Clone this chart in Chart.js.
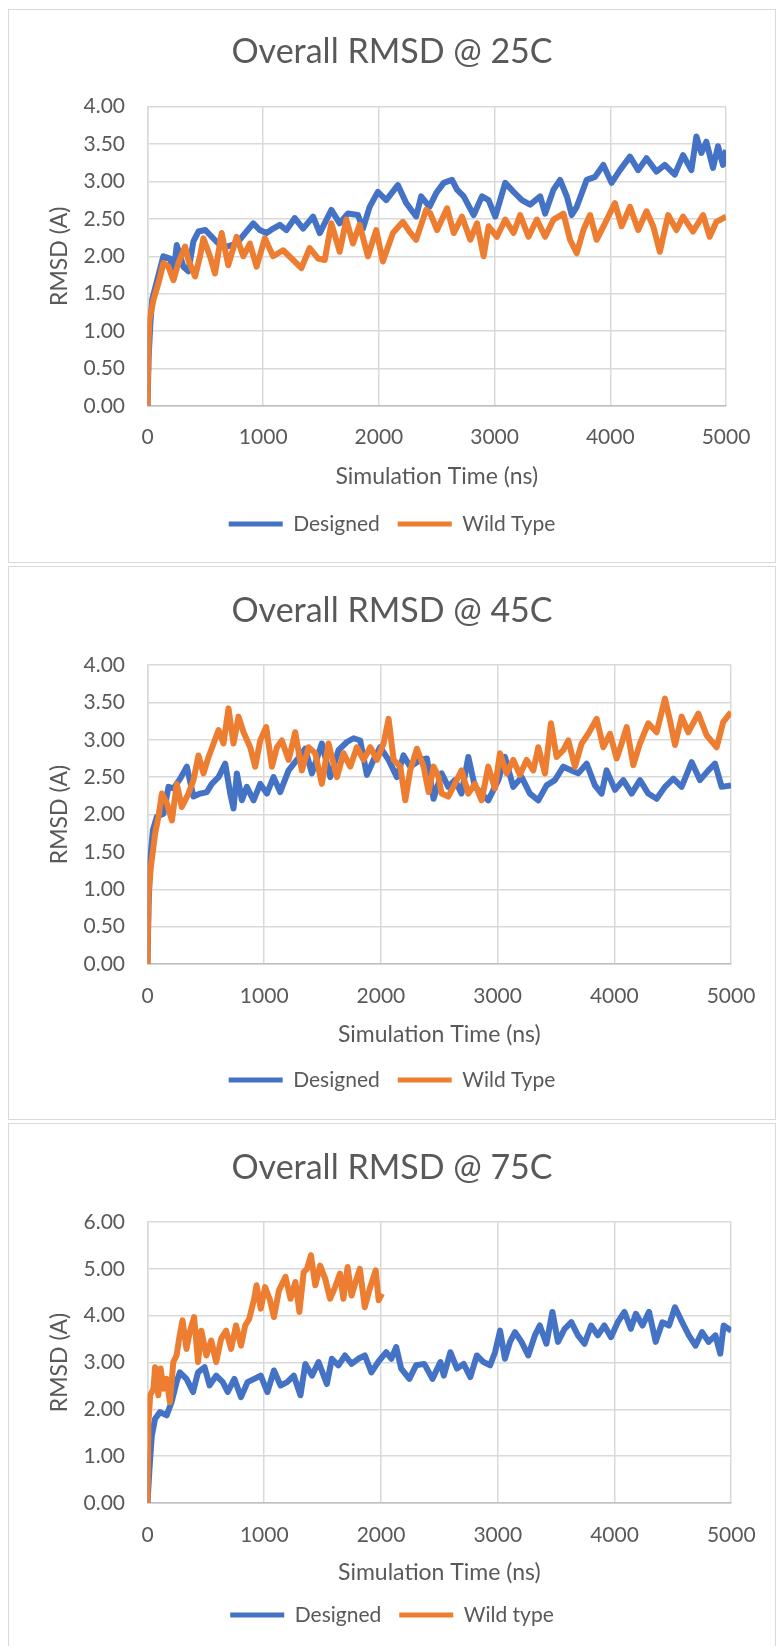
<!DOCTYPE html>
<html>
<head>
<meta charset="utf-8">
<script src="https://cdn.jsdelivr.net/npm/chart.js@4/dist/chart.umd.min.js"></script>
<style>
  body { margin: 0; background: #fff; width: 776px; height: 1646px; position: relative; overflow: hidden; }
  .box { position: absolute; left: 8px; width: 766px; height: 552px; border: 1px solid #d9d9d9; background: #fff; }
  .box canvas { position: absolute; left: 0; top: 0; }
</style>
</head>
<body>
<div class="box" style="top:9px"><canvas id="chart25" width="766" height="552"></canvas></div>
<div class="box" style="top:566px"><canvas id="chart45" width="766" height="552"></canvas></div>
<div class="box" style="top:1123px"><canvas id="chart75" width="766" height="552"></canvas></div>
<script>
// values (time in ns, RMSD in A)
const xTicks = [0, 1000, 2000, 3000, 4000, 5000];

const time25Designed = [0, 10, 25, 40, 80, 137, 195, 224, 253, 310, 353, 397, 440, 500, 555, 612, 684, 770, 828, 914, 970, 1029, 1086, 1144, 1201, 1273, 1345, 1431, 1489, 1589, 1661, 1733, 1819, 1862, 1920, 1991, 2063, 2164, 2236, 2322, 2365, 2437, 2494, 2560, 2632, 2675, 2733, 2819, 2891, 2948, 3006, 3092, 3164, 3236, 3307, 3394, 3437, 3509, 3566, 3624, 3667, 3710, 3796, 3868, 3940, 4011, 4083, 4170, 4241, 4313, 4399, 4471, 4557, 4629, 4701, 4744, 4787, 4830, 4888, 4931, 4974, 5000];
const rmsd25Designed = [0, 0.66, 1.1, 1.42, 1.66, 2.0, 1.97, 1.77, 2.15, 1.86, 1.8, 2.2, 2.33, 2.35, 2.26, 2.17, 2.13, 2.17, 2.28, 2.44, 2.35, 2.31, 2.37, 2.42, 2.35, 2.51, 2.37, 2.53, 2.31, 2.62, 2.44, 2.57, 2.55, 2.37, 2.66, 2.86, 2.75, 2.95, 2.71, 2.53, 2.8, 2.66, 2.84, 2.98, 3.02, 2.89, 2.8, 2.55, 2.8, 2.75, 2.53, 2.98, 2.86, 2.75, 2.69, 2.8, 2.57, 2.89, 3.02, 2.8, 2.55, 2.66, 3.02, 3.06, 3.22, 2.98, 3.15, 3.33, 3.15, 3.31, 3.13, 3.22, 3.09, 3.35, 3.15, 3.6, 3.38, 3.53, 3.18, 3.47, 3.22, 3.42];
const time25Wild = [0, 10, 17, 52, 95, 138, 181, 224, 267, 325, 353, 411, 454, 483, 540, 583, 641, 698, 770, 828, 885, 943, 1014, 1086, 1172, 1259, 1330, 1402, 1474, 1532, 1589, 1661, 1718, 1776, 1833, 1905, 1977, 2034, 2121, 2207, 2264, 2322, 2408, 2445, 2503, 2589, 2647, 2718, 2790, 2848, 2905, 2948, 3020, 3092, 3164, 3221, 3293, 3365, 3437, 3509, 3595, 3652, 3710, 3767, 3825, 3882, 3954, 4040, 4098, 4170, 4241, 4313, 4371, 4428, 4500, 4572, 4629, 4715, 4802, 4859, 4917, 5000];
const rmsd25Wild = [0, 0.9, 1.15, 1.42, 1.64, 1.91, 1.86, 1.68, 1.91, 2.13, 1.95, 1.73, 2.0, 2.24, 2.0, 1.77, 2.31, 1.88, 2.26, 2.0, 2.17, 1.86, 2.24, 2.0, 2.08, 1.95, 1.84, 2.11, 1.97, 1.95, 2.44, 2.06, 2.49, 2.17, 2.42, 2.0, 2.35, 1.93, 2.31, 2.46, 2.33, 2.22, 2.62, 2.57, 2.35, 2.64, 2.31, 2.53, 2.22, 2.44, 2.0, 2.4, 2.26, 2.49, 2.31, 2.55, 2.26, 2.49, 2.26, 2.49, 2.57, 2.22, 2.04, 2.35, 2.55, 2.22, 2.44, 2.71, 2.4, 2.66, 2.35, 2.6, 2.4, 2.06, 2.55, 2.35, 2.53, 2.33, 2.55, 2.26, 2.46, 2.53];

const time45Designed = [0, 9, 23, 46, 80, 137, 180, 223, 280, 337, 394, 451, 509, 551, 609, 666, 709, 737, 766, 809, 851, 909, 966, 1023, 1080, 1137, 1209, 1280, 1351, 1409, 1494, 1566, 1637, 1709, 1766, 1823, 1880, 1937, 1994, 2066, 2137, 2194, 2251, 2337, 2394, 2451, 2520, 2577, 2634, 2691, 2749, 2806, 2863, 2920, 3006, 3063, 3134, 3206, 3277, 3349, 3420, 3491, 3563, 3634, 3691, 3763, 3834, 3891, 3934, 4006, 4077, 4149, 4220, 4291, 4363, 4434, 4506, 4577, 4663, 4734, 4806, 4863, 4920, 5000];
const rmsd45Designed = [0, 0.77, 1.39, 1.79, 1.97, 2.01, 2.37, 2.35, 2.48, 2.64, 2.24, 2.28, 2.3, 2.41, 2.5, 2.68, 2.28, 2.08, 2.55, 2.19, 2.37, 2.19, 2.41, 2.28, 2.5, 2.3, 2.59, 2.73, 2.88, 2.55, 2.95, 2.5, 2.86, 2.97, 3.02, 2.99, 2.53, 2.73, 2.9, 2.73, 2.5, 2.79, 2.64, 2.73, 2.75, 2.21, 2.55, 2.37, 2.46, 2.28, 2.77, 2.37, 2.28, 2.19, 2.46, 2.77, 2.37, 2.5, 2.28, 2.19, 2.39, 2.46, 2.64, 2.59, 2.55, 2.68, 2.39, 2.28, 2.59, 2.33, 2.46, 2.28, 2.46, 2.28, 2.21, 2.37, 2.48, 2.37, 2.7, 2.46, 2.59, 2.68, 2.37, 2.39];
const time45Wild = [0, 9, 29, 66, 94, 123, 166, 209, 251, 294, 351, 394, 437, 480, 523, 566, 609, 651, 694, 737, 780, 823, 880, 923, 966, 1017, 1066, 1109, 1151, 1209, 1266, 1323, 1380, 1437, 1494, 1551, 1623, 1680, 1737, 1794, 1851, 1909, 1966, 2023, 2066, 2109, 2166, 2209, 2251, 2309, 2366, 2409, 2451, 2494, 2520, 2577, 2634, 2691, 2749, 2806, 2863, 2920, 2977, 3020, 3077, 3134, 3191, 3249, 3306, 3349, 3406, 3457, 3506, 3563, 3606, 3663, 3720, 3777, 3849, 3906, 3963, 4020, 4063, 4106, 4163, 4220, 4291, 4363, 4434, 4477, 4520, 4577, 4634, 4720, 4791, 4877, 4934, 5000];
const rmsd45Wild = [0, 0.94, 1.3, 1.75, 1.97, 2.28, 2.15, 1.92, 2.41, 2.1, 2.28, 2.46, 2.79, 2.55, 2.77, 2.95, 3.13, 2.95, 3.42, 2.95, 3.31, 3.1, 2.9, 2.64, 2.99, 3.17, 2.64, 2.9, 2.99, 2.73, 3.1, 2.59, 2.9, 2.82, 2.41, 2.95, 2.5, 2.82, 2.64, 2.9, 2.73, 2.9, 2.73, 2.95, 3.28, 2.73, 2.64, 2.19, 2.59, 2.88, 2.64, 2.3, 2.64, 2.5, 2.28, 2.24, 2.41, 2.59, 2.28, 2.41, 2.19, 2.64, 2.35, 2.82, 2.55, 2.73, 2.53, 2.73, 2.59, 2.9, 2.55, 3.22, 2.77, 2.86, 2.99, 2.64, 2.95, 3.08, 3.28, 2.9, 3.08, 2.75, 2.95, 3.17, 2.66, 2.95, 3.22, 3.1, 3.55, 3.26, 2.93, 3.31, 3.1, 3.35, 3.06, 2.9, 3.24, 3.37];

const time75Designed = [0, 17, 37, 65, 107, 164, 206, 249, 277, 334, 390, 433, 489, 532, 588, 645, 687, 744, 801, 857, 914, 970, 1027, 1083, 1140, 1196, 1253, 1310, 1352, 1409, 1465, 1536, 1579, 1635, 1692, 1748, 1805, 1862, 1918, 1975, 2045, 2088, 2130, 2173, 2243, 2300, 2371, 2441, 2509, 2538, 2594, 2651, 2708, 2765, 2821, 2878, 2935, 2977, 3020, 3062, 3105, 3148, 3204, 3261, 3318, 3360, 3417, 3468, 3516, 3573, 3630, 3687, 3743, 3800, 3857, 3913, 3970, 4028, 4085, 4140, 4183, 4240, 4296, 4353, 4410, 4467, 4518, 4580, 4637, 4694, 4750, 4806, 4864, 4906, 4935, 5000];
const rmsd75Designed = [0, 0.73, 1.44, 1.8, 1.94, 1.87, 2.15, 2.58, 2.79, 2.65, 2.37, 2.79, 2.9, 2.51, 2.72, 2.58, 2.37, 2.65, 2.26, 2.58, 2.65, 2.72, 2.37, 2.83, 2.51, 2.58, 2.72, 2.3, 2.97, 2.72, 3.01, 2.54, 3.08, 2.94, 3.15, 2.97, 3.08, 3.15, 2.79, 3.01, 3.22, 3.08, 3.33, 2.87, 2.65, 2.94, 2.97, 2.65, 3.01, 2.72, 3.22, 2.87, 2.97, 2.69, 3.15, 3.01, 2.94, 3.22, 3.68, 3.08, 3.44, 3.65, 3.44, 3.15, 3.58, 3.79, 3.4, 4.08, 3.44, 3.72, 3.86, 3.58, 3.4, 3.79, 3.58, 3.79, 3.54, 3.86, 4.08, 3.72, 4.04, 3.79, 4.08, 3.44, 3.86, 3.79, 4.18, 3.86, 3.58, 3.36, 3.65, 3.44, 3.58, 3.19, 3.79, 3.68];
const time75Wild = [0, 8, 23, 51, 65, 93, 113, 136, 164, 192, 221, 249, 271, 300, 334, 362, 399, 433, 461, 504, 546, 588, 631, 673, 716, 758, 801, 837, 871, 914, 934, 970, 1007, 1046, 1083, 1126, 1182, 1225, 1267, 1301, 1338, 1366, 1400, 1437, 1479, 1522, 1564, 1607, 1649, 1678, 1714, 1748, 1791, 1819, 1861, 1904, 1955, 1980, 2008];
const rmsd75Wild = [0, 1.72, 2.3, 2.44, 2.9, 2.3, 2.87, 2.44, 2.65, 2.15, 3.01, 3.15, 3.51, 3.9, 3.29, 3.65, 3.97, 3.01, 3.68, 3.15, 3.47, 3.01, 3.51, 3.68, 3.29, 3.79, 3.36, 3.79, 3.93, 4.36, 4.65, 4.15, 4.61, 4.36, 3.97, 4.54, 4.83, 4.36, 4.72, 4.08, 4.93, 5.0, 5.29, 4.65, 5.07, 4.79, 4.36, 4.61, 4.9, 4.36, 5.04, 4.43, 4.79, 5.0, 4.18, 4.58, 4.97, 4.33, 4.47];

const yTicks4 = [0, 0.5, 1, 1.5, 2, 2.5, 3, 3.5, 4];
const yTicks6 = [0, 1, 2, 3, 4, 5, 6];

const FONT = "Lato, 'Open Sans', sans-serif";
const TEXT = '#595959';
const GRID = '#d9d9d9';
const BLUE = '#4472c4';
const ORANGE = '#ed7d31';
const W = 766, H = 552;
const TITLE_SIZE = 34, TICK_SIZE = 21, AXIS_SIZE = 23, LEG_SIZE = 21, LEG_PAD = 18;

function points(times, vals) {
    return times.map((t, i) => ({ x: t, y: vals[i] }));
}

function makeChart(id, title, wildLabel, dTime, dVal, wTime, wVal, yTicks, lay) {
    const legendTop = lay.legendC - LEG_SIZE / 2 - LEG_PAD;
    const yMax = yTicks[yTicks.length - 1];

    return new Chart(document.getElementById(id), {
        type: 'line',
        data: {
            datasets: [{
                label: 'Designed',
                data: points(dTime, dVal),
                borderColor: BLUE,
                backgroundColor: BLUE,
                borderWidth: 6,
                pointRadius: 0,
                tension: 0,
                borderJoinStyle: 'round',
                order: 1
            }, {
                label: wildLabel,
                data: points(wTime, wVal),
                borderColor: ORANGE,
                backgroundColor: ORANGE,
                borderWidth: 6,
                pointRadius: 0,
                tension: 0,
                borderJoinStyle: 'round',
                order: 0
            }]
        },
        options: {
            responsive: false,
            animation: false,
            layout: {
                padding: { left: 0, top: 0, right: 0, bottom: H - (lay.legendC + LEG_SIZE / 2 + 10) }
            },
            plugins: {
                title: {
                    display: true,
                    text: title,
                    color: TEXT,
                    font: { family: FONT, size: TITLE_SIZE, weight: 'normal' },
                    padding: {
                        top: lay.titleC - TITLE_SIZE * 0.6,
                        bottom: lay.plotTop - lay.titleC - TITLE_SIZE * 0.6
                    }
                },
                legend: {
                    position: 'bottom',
                    labels: {
                        boxWidth: 54,
                        boxHeight: 5,
                        padding: LEG_PAD,
                        color: TEXT,
                        font: { family: FONT, size: LEG_SIZE },
                        sort: (a, b) => a.datasetIndex - b.datasetIndex,
                        generateLabels: chart => Chart.defaults.plugins.legend.labels.generateLabels(chart)
                            .map(item => Object.assign(item, { lineWidth: 0 }))
                    }
                },
                tooltip: { enabled: false }
            },
            scales: {
                x: {
                    type: 'linear',
                    min: xTicks[0],
                    max: xTicks[xTicks.length - 1],
                    afterBuildTicks: s => { s.ticks = xTicks.map(v => ({ value: v })); },
                    ticks: {
                        color: TEXT,
                        font: { family: FONT, size: TICK_SIZE },
                        padding: lay.tickC - lay.plotBottom - TICK_SIZE * 0.6,
                        maxRotation: 0,
                        callback: v => String(v)
                    },
                    grid: { color: GRID, lineWidth: 1.5, drawTicks: false },
                    border: { color: '#bfbfbf', width: 1.5 },
                    title: {
                        display: true,
                        text: 'Simulation Time (ns)',
                        color: TEXT,
                        font: { family: FONT, size: AXIS_SIZE },
                        padding: { top: 0, bottom: legendTop - lay.xTitleC - AXIS_SIZE * 0.6 }
                    },
                    afterFit: s => { s.height = legendTop - lay.plotBottom; }
                },
                y: {
                    min: 0,
                    max: yMax,
                    afterBuildTicks: s => { s.ticks = yTicks.map(v => ({ value: v })); },
                    ticks: {
                        color: TEXT,
                        font: { family: FONT, size: TICK_SIZE },
                        padding: lay.plotLeft - lay.yTickRight,
                        callback: v => Number(v).toFixed(2)
                    },
                    grid: { color: GRID, lineWidth: 1.5, drawTicks: false },
                    border: { color: GRID, width: 1.5 },
                    title: {
                        display: true,
                        text: 'RMSD (A)',
                        color: TEXT,
                        font: { family: FONT, size: AXIS_SIZE },
                        padding: { top: lay.yTitleC - AXIS_SIZE * 0.6, bottom: 0 }
                    },
                    afterFit: s => { s.width = lay.plotLeft; }
                },
                // empty strip on the right so the plot ends where the reference does
                yRight: {
                    position: 'right',
                    display: true,
                    ticks: { display: false },
                    grid: { display: false, drawTicks: false },
                    border: { display: false },
                    afterFit: s => { s.width = W - lay.plotRight; }
                }
            }
        }
    });
}

makeChart('chart25', 'Overall RMSD @ 25C', 'Wild Type',
    time25Designed, rmsd25Designed, time25Wild, rmsd25Wild, yTicks4,
    { titleC: 42, plotTop: 96.5, plotBottom: 396, plotLeft: 138.5, plotRight: 717, yTickRight: 116, yTitleC: 50.4, tickC: 427, xTitleC: 467, legendC: 514 });

makeChart('chart45', 'Overall RMSD @ 45C', 'Wild Type',
    time45Designed, rmsd45Designed, time45Wild, rmsd45Wild, yTicks4,
    { titleC: 44, plotTop: 98, plotBottom: 397, plotLeft: 138.5, plotRight: 722, yTickRight: 116, yTitleC: 50.4, tickC: 429, xTitleC: 468, legendC: 513 });

makeChart('chart75', 'Overall RMSD @ 75C', 'Wild type',
    time75Designed, rmsd75Designed, time75Wild, rmsd75Wild, yTicks6,
    { titleC: 44, plotTop: 98, plotBottom: 379, plotLeft: 138.5, plotRight: 727.6, yTickRight: 116, yTitleC: 50.4, tickC: 411, xTitleC: 449, legendC: 491 });
</script>
</body>
</html>
